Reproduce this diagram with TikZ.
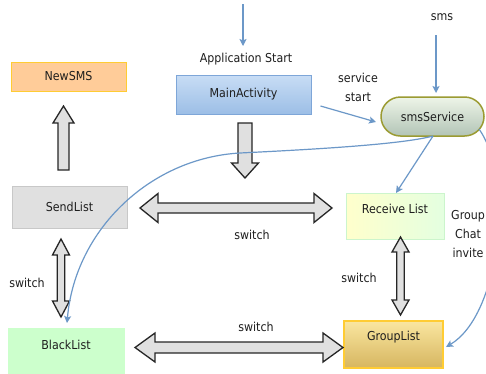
\documentclass[tikz,border=0pt]{standalone}
\usepackage{fontspec}
\setmainfont{DejaVu Sans Condensed}
\usetikzlibrary{arrows.meta,calc,shapes.misc}
\definecolor{txt}{RGB}{30,30,30}
\definecolor{link}{RGB}{108,152,200}
\definecolor{blk}{RGB}{224,224,224}
\definecolor{mainA}{RGB}{200,221,245}
\definecolor{mainB}{RGB}{156,190,230}
\definecolor{mainD}{RGB}{126,166,216}
\definecolor{svcA}{RGB}{238,245,232}
\definecolor{svcB}{RGB}{178,196,182}
\definecolor{svcD}{RGB}{155,155,50}
\definecolor{grpA}{RGB}{250,230,160}
\definecolor{grpB}{RGB}{214,182,96}
\definecolor{grpD}{RGB}{255,204,51}
\definecolor{rcvA}{RGB}{255,255,204}
\definecolor{rcvB}{RGB}{228,255,224}
\definecolor{rcvD}{RGB}{204,245,204}
\newcommand{\hdblarrow}[6]{% x1 x2 y shaft head len
  \draw[blockarrow] (#1,#3) -- ({#1+#6},{#3-#5}) -- ({#1+#6},{#3-#4}) -- ({#2-#6},{#3-#4})
    -- ({#2-#6},{#3-#5}) -- (#2,#3) -- ({#2-#6},{#3+#5}) -- ({#2-#6},{#3+#4})
    -- ({#1+#6},{#3+#4}) -- ({#1+#6},{#3+#5}) -- cycle;}
\newcommand{\vdblarrow}[6]{% y1 y2 x shaft head len
  \draw[blockarrow] (#3,#1) -- ({#3-#5},{#1+#6}) -- ({#3-#4},{#1+#6}) -- ({#3-#4},{#2-#6})
    -- ({#3-#5},{#2-#6}) -- (#3,#2) -- ({#3+#5},{#2-#6}) -- ({#3+#4},{#2-#6})
    -- ({#3+#4},{#1+#6}) -- ({#3+#5},{#1+#6}) -- cycle;}
\newcommand{\vsglarrow}[6]{% ytail ytip x shaft head len
  \draw[blockarrow] ({#3-#4},#1) -- ({#3-#4},{#2-#6}) -- ({#3-#5},{#2-#6}) -- (#3,#2)
    -- ({#3+#5},{#2-#6}) -- ({#3+#4},{#2-#6}) -- ({#3+#4},#1) -- cycle;}
\begin{document}
\begin{tikzpicture}[x=1pt,y=-1pt,
  font=\fontsize{12.3}{19}\selectfont, text=txt,
  box/.style={rectangle, line width=1pt, inner sep=0pt, align=center},
  lbl/.style={inner sep=0pt, align=center},
  blockarrow/.style={draw=black!85, line width=1.3pt, fill=blk, line join=miter},
  link/.style={draw=link, line width=1.2pt, -{Stealth[length=7pt,width=7pt,inset=1.5pt]}}]
\useasboundingbox (0,0) rectangle (486,373);
\fill[white] (0,0) rectangle (486,373);

% nodes
\node[box, fill={rgb,255:red,255;green,204;blue,153}, draw=grpD,
  minimum width=115pt, minimum height=29pt] (newsms) at (68.5,76.5) {NewSMS};
\node[box, top color=mainA, bottom color=mainB, draw=mainD,
  minimum width=135pt, minimum height=39pt] (main) at (243.5,94.5) {MainActivity};
\node[box, fill={rgb,255:red,224;green,224;blue,224}, draw={rgb,255:red,200;green,200;blue,200},
  minimum width=115pt, minimum height=42pt] (send) at (69.5,207) {SendList};
\node[box, fill={rgb,255:red,204;green,255;blue,204}, draw={rgb,255:red,204;green,255;blue,204},
  minimum width=116pt, minimum height=48pt] (black) at (66,352) {};
\node[lbl] at (66,345) {BlackList};
\node[box, left color=rcvA, right color=rcvB, draw=rcvD,
  minimum width=98pt, minimum height=46pt] (recv) at (395,216) {};
\node[lbl] at (395,209) {Receive List};
\node[box, top color=grpA, bottom color=grpB, draw=grpD, line width=1.3pt,
  minimum width=99pt, minimum height=47pt] (group) at (393.5,344.5) {};
\node[lbl] at (393.5,337.5) {GroupList};
\node[rounded rectangle, top color=svcA, bottom color=svcB, draw=svcD, line width=1.5pt,
  minimum width=103pt, minimum height=39pt, inner sep=0pt] (svc) at (432.5,116.5) {smsService};

% labels
\node[lbl] (appstart) at (246,59) {Application Start};
\node[lbl] (smslbl) at (442,17) {sms};
\node[lbl] (svcstart) at (358,87.5) {service\\start};
\node[lbl] (gci) at (468,234.5) {Group\\Chat\\invite};
\node[lbl] (sw1) at (252,235) {switch};
\node[lbl] (sw2) at (27,283) {switch};
\node[lbl] (sw3) at (256,327) {switch};
\node[lbl] (sw4) at (359,278) {switch};

% block arrows
\hdblarrow{140}{332}{208}{5}{14.5}{18}
\hdblarrow{135}{343}{347.5}{5.5}{14.5}{20}
\vsglarrow{123}{178}{245}{7}{13.5}{15}
\draw[blockarrow] (58,170) -- (58,123) -- (53,123) -- (63.5,106) -- (74,123) -- (69,123) -- (69,170) -- cycle;
\vdblarrow{239}{317}{61}{3.7}{8.5}{16}
\vdblarrow{237}{315}{400.5}{3.7}{8.5}{15}

% thin connectors
\coordinate (topin) at (243,4);
\coordinate (smsin) at (436,35);
\draw[link] (topin) -- (243,46);
\draw[link] (smsin) -- (436,93);
\draw[link] ($(main.east)+(9,11.5)$) -- (376,122);
\draw[link] (433,136) -- (396,193);
\draw[link] (433,136) .. controls (400,145) and (300,150) .. (240,153)
  .. controls (150,158) and (75,230) .. (67,323);
\draw[link] (479,129) .. controls (515,180) and (500,315) .. (446,347);
\end{tikzpicture}
\end{document}
